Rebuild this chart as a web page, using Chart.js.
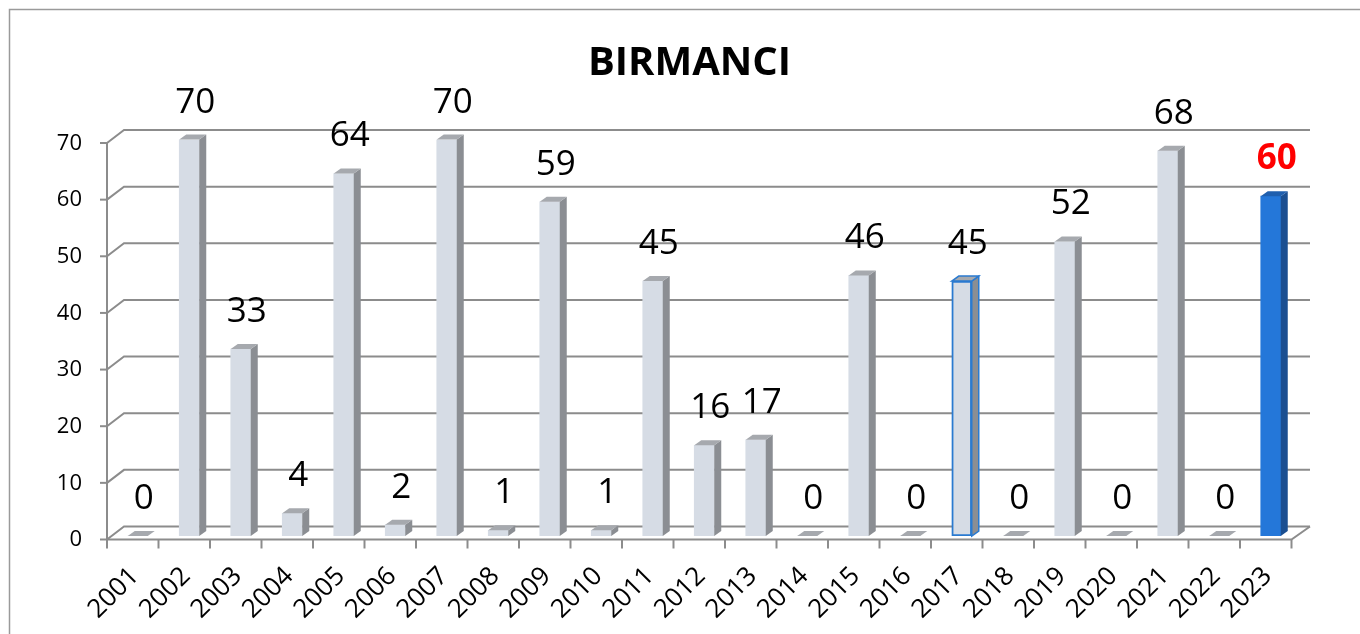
<!DOCTYPE html>
<html>
<head>
<meta charset="utf-8">
<title>BIRMANCI</title>
<script src="https://cdn.jsdelivr.net/npm/chart.js@4.4.0/dist/chart.umd.min.js"></script>
<style>
    html, body { margin: 0; padding: 0; background: #ffffff; }
    #birmanciChart { display: block; }
</style>
</head>
<body>
<canvas id="birmanciChart" width="1360" height="634"></canvas>
<script>
// dane
var years = ['2001', '2002', '2003', '2004', '2005', '2006', '2007', '2008', '2009', '2010', '2011', '2012',
             '2013', '2014', '2015', '2016', '2017', '2018', '2019', '2020', '2021', '2022', '2023'];
var counts = [0, 70, 33, 4, 64, 2, 70, 1, 59, 1, 45, 16, 17, 0, 46, 0, 45, 0, 52, 0, 68, 0, 60];
var yTicks = [0, 10, 20, 30, 40, 50, 60, 70];
var chartTitle = 'BIRMANCI';
var outlinedYear = '2017';   // obramowany na niebiesko
var highlightYear = '2023';  // wypelniony na niebiesko, czerwona etykieta

// kolory
var greyFront = '#d6dce5', greySide = '#8b8e93', greyTop = '#a6a9ae';
var blueFront = '#2477d9', blueSide = '#1b4f91', blueTop = '#1f5fae';
var outlineBlue = '#2a7ad0';
var gridColor = '#8c8c8c';
var FONT = '"Open Sans", "Noto Sans", sans-serif';

// przesuniecia "3D" wzgledem plaszczyzny slupkow
var FRONT = { dx: -5, dy: 3.5 };
var BACK = { dx: 12, dy: -9.5 };
var BAR_DEPTH = { dx: 7, dy: -5 };

var frontColors = years.map(function (y) { return y === highlightYear ? blueFront : greyFront; });
var borderColors = years.map(function (y) { return y === outlinedYear ? outlineBlue : 'rgba(0,0,0,0)'; });
var borderWidths = years.map(function (y) { return y === outlinedYear ? 2 : 0; });

var fake3d = {
    id: 'fake3d',
    beforeDraw: function (chart) {
        var ctx = chart.ctx;
        ctx.save();
        // ramka wykresu
        ctx.strokeStyle = '#9a9a9a';
        ctx.lineWidth = 1.5;
        ctx.beginPath();
        ctx.moveTo(9.5, 640);
        ctx.lineTo(9.5, 9.5);
        ctx.lineTo(1365, 9.5);
        ctx.stroke();
        // tytul
        ctx.fillStyle = '#000';
        ctx.font = 'bold 40px ' + FONT;
        ctx.textAlign = 'center';
        ctx.textBaseline = 'alphabetic';
        ctx.fillText(chartTitle, 689.5, 75);
        ctx.restore();
    },
    beforeDatasetsDraw: function (chart) {
        var ctx = chart.ctx;
        var area = chart.chartArea;
        var ys = chart.scales.y;
        var fx = area.left + FRONT.dx;
        var fxRight = area.right + FRONT.dx;
        var bx = area.left + BACK.dx;
        var bxRight = area.right + BACK.dx + 1.5;
        ctx.save();
        ctx.strokeStyle = gridColor;
        ctx.lineWidth = 2;
        yTicks.forEach(function (v) {
            var yb = ys.getPixelForValue(v);
            var yf = yb + FRONT.dy;
            var yk = yb + BACK.dy;
            ctx.beginPath();
            ctx.moveTo(fx, yf);
            ctx.lineTo(bx, yk);
            ctx.lineTo(bxRight, yk);
            ctx.stroke();
            // kreska podzialki
            ctx.beginPath();
            ctx.moveTo(fx - 7, yf);
            ctx.lineTo(fx, yf);
            ctx.stroke();
        });
        // os pionowa
        var yTop = ys.getPixelForValue(yTicks[yTicks.length - 1]) + FRONT.dy;
        var yZero = ys.getPixelForValue(0) + FRONT.dy;
        ctx.beginPath();
        ctx.moveTo(fx, yTop);
        ctx.lineTo(fx, yZero);
        ctx.stroke();
        // podloga
        ctx.beginPath();
        ctx.moveTo(fx, yZero);
        ctx.lineTo(fxRight, yZero);
        ctx.lineTo(bxRight, ys.getPixelForValue(0) + BACK.dy);
        ctx.stroke();
        // podzialka osi X
        var step = (area.right - area.left) / years.length;
        for (var i = 0; i <= years.length; i++) {
            var tx = fx + i * step;
            ctx.beginPath();
            ctx.moveTo(tx, yZero);
            ctx.lineTo(tx, yZero + 9);
            ctx.stroke();
        }
        ctx.restore();
    },
    afterDatasetsDraw: function (chart) {
        var ctx = chart.ctx;
        var meta = chart.getDatasetMeta(0);
        ctx.save();
        meta.data.forEach(function (bar, i) {
            var year = years[i];
            var half = bar.width / 2;
            var left = bar.x - half, right = bar.x + half;
            var top = bar.y, base = bar.base;
            var isHi = year === highlightYear;
            var side = isHi ? blueSide : greySide;
            var topCol = isHi ? blueTop : greyTop;

            // bok
            if (base - top > 0.5) {
                ctx.fillStyle = side;
                ctx.beginPath();
                ctx.moveTo(right, top);
                ctx.lineTo(right + BAR_DEPTH.dx, top + BAR_DEPTH.dy);
                ctx.lineTo(right + BAR_DEPTH.dx, base + BAR_DEPTH.dy);
                ctx.lineTo(right, base);
                ctx.closePath();
                ctx.fill();
                if (year === outlinedYear) {
                    ctx.strokeStyle = outlineBlue;
                    ctx.lineWidth = 1.5;
                    ctx.stroke();
                }
            }
            // wierzch
            ctx.fillStyle = topCol;
            ctx.beginPath();
            ctx.moveTo(left, top);
            ctx.lineTo(left + BAR_DEPTH.dx, top + BAR_DEPTH.dy);
            ctx.lineTo(right + BAR_DEPTH.dx, top + BAR_DEPTH.dy);
            ctx.lineTo(right, top);
            ctx.closePath();
            ctx.fill();
            if (year === outlinedYear) {
                ctx.strokeStyle = outlineBlue;
                ctx.lineWidth = 1.5;
                ctx.stroke();
            }

            // etykieta wartosci
            ctx.textAlign = 'center';
            ctx.textBaseline = 'alphabetic';
            if (isHi) {
                ctx.fillStyle = '#ff0000';
                ctx.font = 'bold 35px ' + FONT;
            } else {
                ctx.fillStyle = '#000000';
                ctx.font = '35px ' + FONT;
            }
            ctx.fillText(String(counts[i]), bar.x + 6, top - 27);
        });
        ctx.restore();
    }
};

var ctx = document.getElementById('birmanciChart').getContext('2d');
var myChart = new Chart(ctx, {
    type: 'bar',
    data: {
        labels: years,
        datasets: [{
            label: chartTitle,
            data: counts,
            backgroundColor: frontColors,
            borderColor: borderColors,
            borderWidth: borderWidths,
            borderSkipped: false,
            barThickness: 20
        }]
    },
    options: {
        responsive: false,
        animation: false,
        layout: {
            padding: { top: 139.5, right: 63.5, bottom: 0, left: 0 }
        },
        plugins: {
            legend: { display: false },
            title: { display: false },
            tooltip: { enabled: false }
        },
        scales: {
            x: {
                grid: { display: false, drawTicks: false },
                border: { display: false },
                ticks: {
                    autoSkip: false,
                    maxRotation: 45,
                    minRotation: 45,
                    labelOffset: -3,
                    padding: 25,
                    color: '#000',
                    font: { family: FONT, size: 26 }
                },
                afterFit: function (scale) { scale.height = 98; }
            },
            y: {
                min: 0,
                max: 70,
                grid: { display: false, drawTicks: false },
                border: { display: false },
                ticks: {
                    stepSize: 10,
                    labelOffset: 4,
                    padding: 30,
                    color: '#000',
                    font: { family: FONT, size: 22 }
                },
                afterFit: function (scale) { scale.width = 112; }
            }
        }
    },
    plugins: [fake3d]
});
</script>
</body>
</html>
